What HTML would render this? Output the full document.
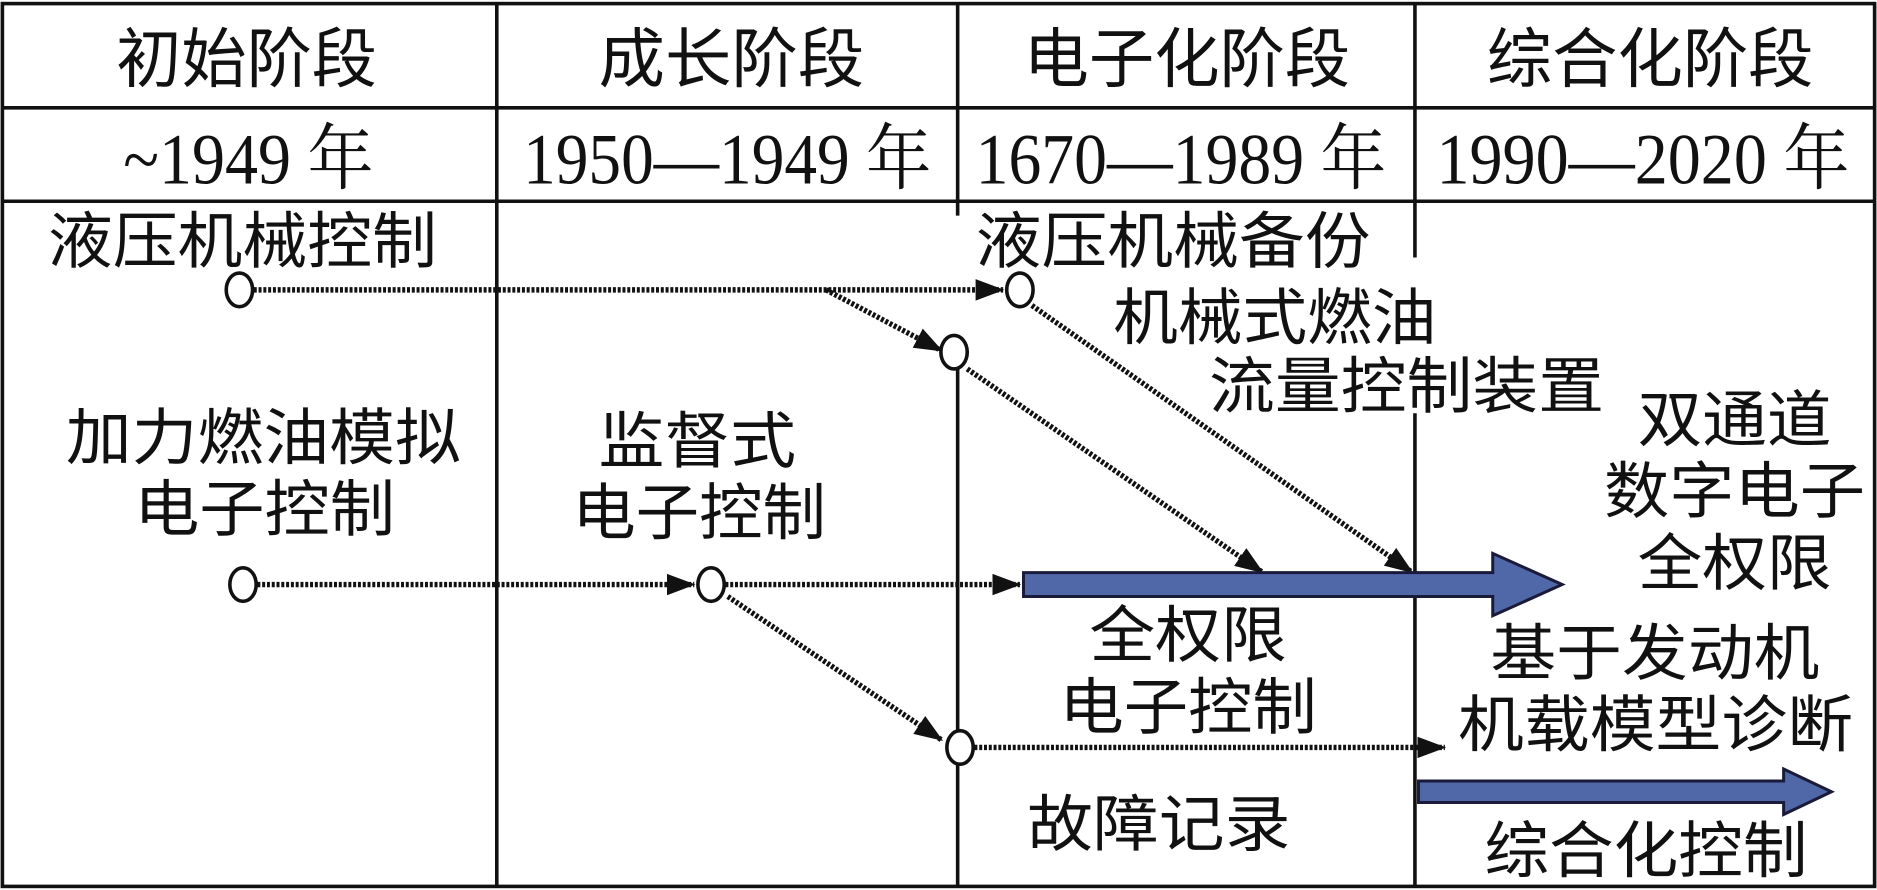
<!DOCTYPE html>
<html><head><meta charset="utf-8"><style>
html,body{margin:0;padding:0;background:#fff}
svg{display:block}
text{font-family:"Liberation Sans","Noto Sans CJK SC",sans-serif;fill:#111}
.y{font-family:"Liberation Serif","Noto Serif CJK SC",serif}
</style></head><body>
<svg width="1877" height="890" viewBox="0 0 1568 743" preserveAspectRatio="none" xmlns="http://www.w3.org/2000/svg">
<defs>
<marker id="b" markerWidth="24" markerHeight="20" refX="23" refY="10" orient="auto" markerUnits="userSpaceOnUse"><path d="M0,1 L24,10 L0,19 z" fill="#111"/></marker>
</defs>
<g stroke="#111" stroke-width="3" fill="none">
<rect x="2" y="3" width="1564" height="737"/>
<line x1="2" y1="90" x2="1566" y2="90"/>
<line x1="2" y1="168" x2="1566" y2="168"/>
<line x1="415" y1="3" x2="415" y2="740"/>
<line x1="800" y1="3" x2="800" y2="180"/>
<line x1="800" y1="300" x2="800" y2="740"/>
<line x1="1182" y1="3" x2="1182" y2="215"/>
<line x1="1182" y1="345" x2="1182" y2="740"/>
</g>
<g font-size="54">
<text x="97" y="68" textLength="218" lengthAdjust="spacingAndGlyphs">初始阶段</text>
<text x="500" y="68" textLength="222" lengthAdjust="spacingAndGlyphs">成长阶段</text>
<text x="855" y="68" textLength="273" lengthAdjust="spacingAndGlyphs">电子化阶段</text>
<text x="1242" y="68" textLength="273" lengthAdjust="spacingAndGlyphs">综合化阶段</text>
</g>
<g font-size="60">
<text class="y" x="103" y="153" textLength="209" lengthAdjust="spacingAndGlyphs">~1949 年</text>
<text class="y" x="437" y="153" textLength="341" lengthAdjust="spacingAndGlyphs">1950—1949 年</text>
<text class="y" x="815" y="153" textLength="343" lengthAdjust="spacingAndGlyphs">1670—1989 年</text>
<text class="y" x="1200" y="153" textLength="345" lengthAdjust="spacingAndGlyphs">1990—2020 年</text>
</g>
<g font-size="51">
<text x="40" y="219" textLength="325" lengthAdjust="spacingAndGlyphs">液压机械控制</text>
<text x="815" y="219" textLength="330" lengthAdjust="spacingAndGlyphs">液压机械备份</text>
<text x="930" y="283" textLength="270" lengthAdjust="spacingAndGlyphs">机械式燃油</text>
<text x="1010" y="340" textLength="330" lengthAdjust="spacingAndGlyphs">流量控制装置</text>
<text x="1368" y="368" textLength="162" lengthAdjust="spacingAndGlyphs">双通道</text>
<text x="1340" y="428" textLength="218" lengthAdjust="spacingAndGlyphs">数字电子</text>
<text x="1368" y="488" textLength="162" lengthAdjust="spacingAndGlyphs">全权限</text>
<text x="55" y="383" textLength="330" lengthAdjust="spacingAndGlyphs">加力燃油模拟</text>
<text x="112" y="443" textLength="218" lengthAdjust="spacingAndGlyphs">电子控制</text>
<text x="500" y="386" textLength="165" lengthAdjust="spacingAndGlyphs">监督式</text>
<text x="478" y="446" textLength="212" lengthAdjust="spacingAndGlyphs">电子控制</text>
<text x="910" y="548" textLength="165" lengthAdjust="spacingAndGlyphs">全权限</text>
<text x="885" y="608" textLength="215" lengthAdjust="spacingAndGlyphs">电子控制</text>
<text x="1245" y="563" textLength="275" lengthAdjust="spacingAndGlyphs">基于发动机</text>
<text x="1218" y="623" textLength="330" lengthAdjust="spacingAndGlyphs">机载模型诊断</text>
<text x="858" y="706" textLength="220" lengthAdjust="spacingAndGlyphs">故障记录</text>
<text x="1240" y="728" textLength="270" lengthAdjust="spacingAndGlyphs">综合化控制</text>
</g>
<g stroke="#111" stroke-width="4.5" stroke-dasharray="2.5,1.5" fill="none">
<line x1="212" y1="242" x2="838" y2="242" marker-end="url(#b)"/>
<line x1="690" y1="242" x2="787" y2="293" marker-end="url(#b)"/>
<line x1="862" y1="255" x2="1180" y2="478" marker-end="url(#b)"/>
<line x1="808" y1="308" x2="1055" y2="478" marker-end="url(#b)"/>
<line x1="215" y1="488" x2="580" y2="488" marker-end="url(#b)"/>
<line x1="606" y1="488" x2="852" y2="488" marker-end="url(#b)"/>
<line x1="608" y1="498" x2="787" y2="618" marker-end="url(#b)"/>
<line x1="814" y1="624" x2="1207" y2="624" marker-end="url(#b)"/>
</g>
<g fill="#fff" stroke="#111" stroke-width="3">
<ellipse cx="200" cy="242" rx="11" ry="14"/>
<ellipse cx="852" cy="242" rx="11" ry="14"/>
<ellipse cx="797" cy="294" rx="11" ry="14"/>
<ellipse cx="203" cy="488" rx="11" ry="14"/>
<ellipse cx="594" cy="488" rx="11" ry="14"/>
<ellipse cx="802" cy="624" rx="11" ry="14"/>
</g>
<g fill="#5068a8" stroke="#1a1a3a" stroke-width="2.5">
<path d="M855,478 L1247,478 L1247,462 L1305,488 L1247,514 L1247,498 L855,498 z"/>
<path d="M1185,652 L1490,652 L1490,642 L1530,661 L1490,680 L1490,670 L1185,670 z"/>
</g>
</svg>
</body></html>
